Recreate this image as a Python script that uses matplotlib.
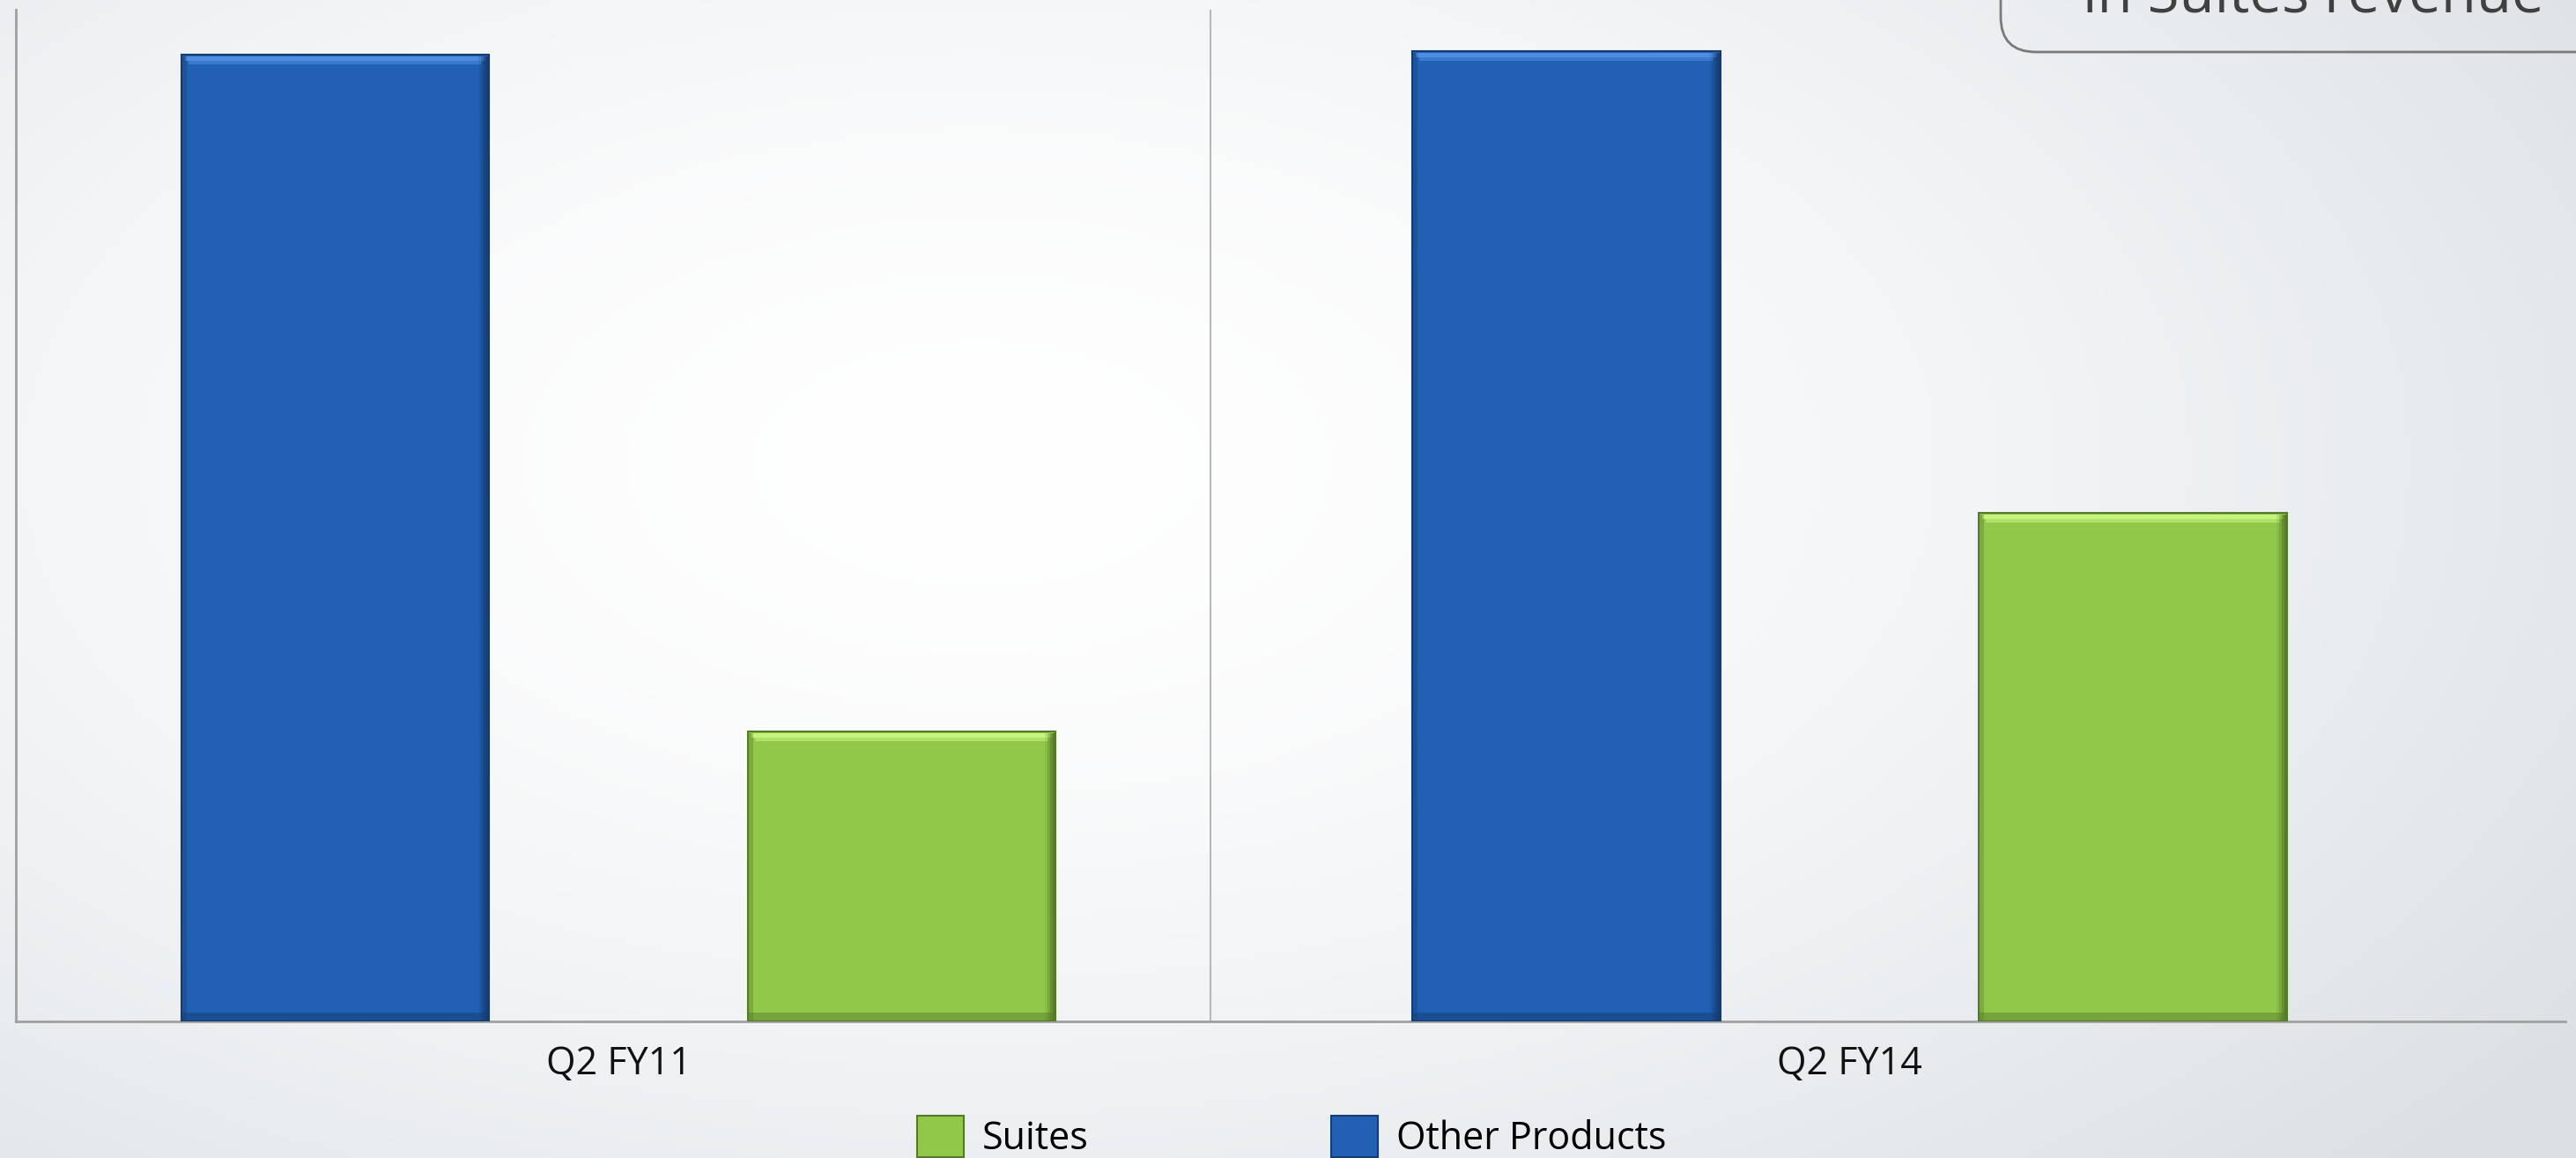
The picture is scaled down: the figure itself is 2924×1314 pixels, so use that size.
import numpy as np
import matplotlib
matplotlib.use("Agg")
import matplotlib.pyplot as plt
from matplotlib.patches import FancyBboxPatch, Patch

plt.rcParams['font.family'] = ['Open Sans', 'DejaVu Sans']

# ---- data ----
categories = ["Q2 FY11", "Q2 FY14"]
other_products = [95.6, 95.9]
suites = [28.7, 50.3]
series_names = ["Suites", "Other Products"]

blue = "#2160b2"
blue_dark = "#143c70"
blue_light = "#4d8ee0"
green = "#91c84a"
green_dark = "#56782a"
green_light = "#c6f47e"

W, H = 2924, 1314
fig = plt.figure(figsize=(W / 100, H / 100), dpi=100)

# background gradient (white in the middle, light grey towards edges)
bg = fig.add_axes([0, 0, 1, 1], zorder=-10)
yy, xx = np.mgrid[0:1:300j, 0:1:600j]
r = np.sqrt(((xx - 0.38) / 0.75) ** 2 + ((yy - 0.4) / 0.9) ** 2)
r = np.clip(r, 0, 1)
c0 = np.array([1.0, 1.0, 1.0])
c1 = np.array([0.86, 0.88, 0.895])
img = c0[None, None, :] + (c1 - c0)[None, None, :] * (r[:, :, None] ** 1.6)
bg.imshow(img, aspect="auto", extent=[0, 1, 0, 1], origin="upper")
bg.axis("off")

ax = fig.add_axes([18 / W, 1 - 1159 / H, (2912 - 18) / W, (1159 - 11) / H])
ax.set_facecolor("none")

x = np.arange(len(categories))
bw = 0.25
off = 0.23
px_x = 1 / 1397.5   # one pixel in x data units
px_y = 100 / 1148   # one pixel in y data units


def bevel_bars(xpos, vals, face, dark, light):
    vals = np.array(vals)
    ax.bar(xpos, vals, bw, color=face, edgecolor=dark, linewidth=1.5, zorder=3)
    # top highlight (bevel)
    ax.bar(xpos, [5 * px_y] * len(vals), bw - 16 * px_x,
           bottom=vals - 11 * px_y, color=light, alpha=0.6, linewidth=0, zorder=4)
    ax.bar(xpos, [5 * px_y] * len(vals), bw - 8 * px_x,
           bottom=vals - 7 * px_y, color=light, linewidth=0, zorder=4)
    # left shade
    ax.bar(xpos - bw / 2 + 3 * px_x, vals - 2 * px_y, 6 * px_x, color=dark,
           alpha=0.35, linewidth=0, zorder=4)
    # right shade
    for k, a in enumerate([0.15, 0.3, 0.5, 0.75]):
        sw = (12 - 3 * k) * px_x
        ax.bar(xpos + bw / 2 - sw / 2, vals - 2 * px_y, sw, color=dark,
               alpha=a, linewidth=0, zorder=4)
    # bottom shade
    ax.bar(xpos, [10 * px_y] * len(vals), bw, color=dark, alpha=0.45,
           linewidth=0, zorder=4)


bevel_bars(x - off, other_products, blue, blue_dark, blue_light)
bevel_bars(x + off, suites, green, green_dark, green_light)

ax.set_xlim(-0.4895, 1.5814)
ax.set_ylim(0, 100)
ax.axvline(0.481, color="#b8b8b8", linewidth=1.5, zorder=1)

for s in ["top", "right"]:
    ax.spines[s].set_visible(False)
for s in ["left", "bottom"]:
    ax.spines[s].set_color("#a0a0a0")
    ax.spines[s].set_linewidth(2)
ax.set_yticks([])
ax.set_xticks(x)
ax.set_xticklabels(categories, fontsize=31, color="#111111")
ax.tick_params(axis="x", length=0, pad=19)

# legend
handles = [Patch(facecolor=green, edgecolor=green_dark, linewidth=1.5),
           Patch(facecolor=blue, edgecolor=blue_dark, linewidth=1.5)]
fig.legend(handles, series_names, loc="upper left",
           bbox_to_anchor=(1041 / W, 1 - 1266 / H), ncol=2, frameon=False,
           fontsize=31, borderpad=0, borderaxespad=0, handlelength=1.23,
           handleheight=1.3, handletextpad=0.49, columnspacing=6.4)

# callout box in the top-right corner (mostly cropped)
box = FancyBboxPatch((2271 / 100, (H - 59) / 100), 8, 2,
                     boxstyle="round,pad=0,rounding_size=0.4",
                     transform=fig.dpi_scale_trans, facecolor="none",
                     edgecolor="#7a7a7a", linewidth=2)
fig.patches.append(box)
fig.text(2364 / W, 1 - 13 / H, "in Suites revenue", fontsize=47,
         color="#404040", va="baseline", ha="left")

fig.savefig("out.png", dpi=100)
